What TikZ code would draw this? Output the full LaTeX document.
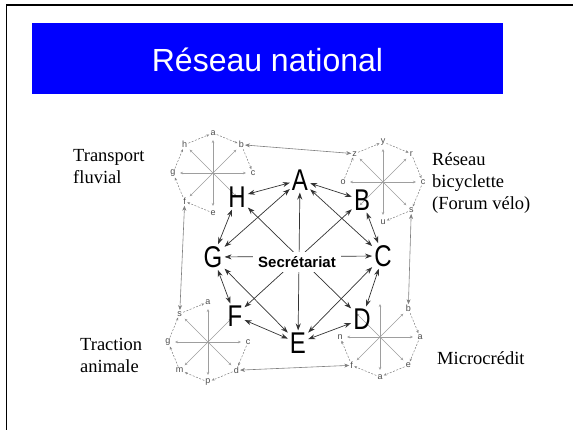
\documentclass[tikz,border=0pt]{standalone}
\usepackage{fontspec}
\setmainfont{Liberation Serif}
\setsansfont{Liberation Sans}
\newfontfamily\narrowsf[FakeStretch=0.8]{Liberation Sans}
\usetikzlibrary{arrows.meta}

\begin{document}
\begin{tikzpicture}[x=1pt,y=1pt,
  bigletter/.style={font=\narrowsf\fontsize{30}{30}\selectfont,inner sep=2pt},
  link/.style={{Stealth[length=7pt,width=5pt]}-{Stealth[length=7pt,width=5pt]},draw=black!80,line width=0.7pt},
  wlink/.style={{Stealth[length=5pt,width=4pt]}-{Stealth[length=5pt,width=4pt]},draw=black!50,line width=0.6pt},
  spoke/.style={-{Stealth[length=3pt,width=2.5pt]},draw=black!38,line width=0.5pt},
  rim/.style={-{Stealth[length=3pt,width=2.5pt]},draw=black!50,dash pattern=on 2pt off 1.5pt,line width=0.5pt},
  wheelletter/.style={font=\sffamily\fontsize{9}{9}\selectfont,text=black!70,inner sep=1pt},
  groupname/.style={font=\fontsize{18.5}{22}\selectfont,align=left,anchor=base west,inner sep=0pt}]
\useasboundingbox (0,0) rectangle (573,430);

% slide frame
\draw[line width=1.5pt] (6.5,-5) -- (6.5,425) -- (580,425);

% title bar
\fill[blue] (32,336) rectangle (503,407);
\node[text=white,font=\sffamily\fontsize{32}{32}\selectfont,anchor=base] (title) at (267.5,358) {Réseau national};

% the four small wheels
\foreach \wheel/\cx/\cy in {tl/213/257,tr/383/248,bl/208/88,br/380/93} {
  \coordinate (\wheel) at (\cx,\cy);
  \foreach \ang in {0,45,...,315}
    \draw[spoke] (\wheel) -- ++(\ang:33);
}

% wheel letters
\foreach \ang/\txt in {90/a,45/b,0/c,270/e,225/f,180/g,135/h}
  \node[wheelletter] (tl\ang) at ([shift={(\ang:40)}]tl) {\txt};
\foreach \ang/\txt in {135/z,90/y,45/r,0/c,315/s,270/u,180/o}
  \node[wheelletter] (tr\ang) at ([shift={(\ang:40)}]tr) {\txt};
\foreach \ang/\txt in {90/a,135/s,180/g,225/m,270/p,315/d,0/c}
  \node[wheelletter] (bl\ang) at ([shift={(\ang:40)}]bl) {\txt};
\foreach \ang/\txt in {45/b,0/a,315/e,270/a,225/f,180/n}
  \node[wheelletter] (br\ang) at ([shift={(\ang:40)}]br) {\txt};

% dashed rims
\foreach \from/\to in {135/90,90/45,45/0,270/225,225/180,180/135}
  \draw[rim] (tl\from) -- (tl\to);
\foreach \from/\to in {180/135,135/90,90/45,45/0,0/315,315/270}
  \draw[rim] (tr\from) -- (tr\to);
\foreach \from/\to in {0/315,315/270,270/225,225/180,180/135,135/90}
  \draw[rim] (bl\from) -- (bl\to);
\foreach \from/\to in {45/0,0/315,315/270,270/225,225/180}
  \draw[rim] (br\from) -- (br\to);

% links between wheels
\draw[wlink] (tl45) -- (tr135);
\draw[wlink] (tl225) -- (bl135);
\draw[wlink] (bl315) -- (br225);
\draw[wlink] (tr315) -- (br45);

% national network
\node[bigletter] (A) at (300,250) {A};
\node[bigletter] (B) at (362,230) {B};
\node[bigletter] (C) at (383,174) {C};
\node[bigletter] (D) at (362,111) {D};
\node[bigletter] (E) at (298,87) {E};
\node[bigletter] (F) at (235,114) {F};
\node[bigletter] (G) at (213,173) {G};
\node[bigletter] (H) at (237,233) {H};

\foreach \a/\b in {A/B,B/C,C/D,D/E,E/F,F/G,G/H,H/A,A/G,A/C,A/E,H/D,B/F,G/E,C/E,G/C}
  \draw[link] (\a) -- (\b);

\node[fill=white,font=\sffamily\bfseries\fontsize{15}{15}\selectfont,inner xsep=5pt,minimum height=20pt] (sec) at (297,168) {Secrétariat};

% group names (base = last line)
\node[groupname] (fluvial) at (73,246) {Transport\\fluvial};
\node[groupname] (velo) at (432,220) {Réseau\\bicyclette\\(Forum vélo)};
\node[groupname] (traction) at (80,57) {Traction\\animale};
\node[groupname] (credit) at (437,65) {Microcrédit};

\end{tikzpicture}
\end{document}
